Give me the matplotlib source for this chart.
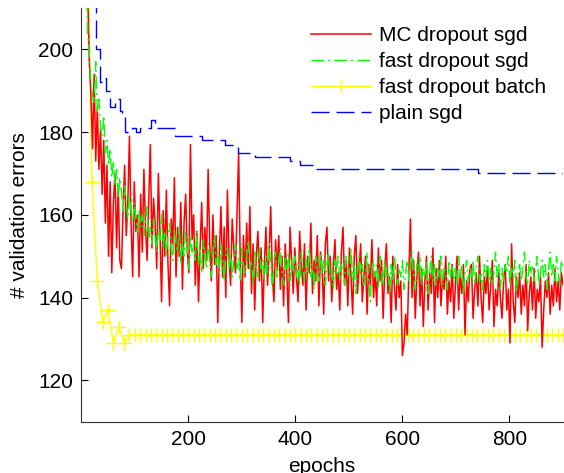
"""Validation errors per epoch for dropout variants (MATLAB-style figure)."""

import matplotlib
matplotlib.use("Agg")
import matplotlib.pyplot as plt

plt.rcParams["font.family"] = ["Liberation Sans", "DejaVu Sans"]
plt.rcParams["font.size"] = 15

# sgd curves read every 3 epochs
sgd_epochs = list(range(9, 901, 3))

mc_dropout_sgd = [
    240, 214, 197, 189, 176, 194, 173, 186, 171, 181,
    165, 178, 158, 172, 150, 168, 146, 163, 170, 152,
    167, 149, 147, 161, 172, 155, 163, 179, 158, 145,
    168, 156, 160, 145, 165, 151, 171, 157, 149, 163,
    177, 152, 164, 158, 147, 170, 156, 139, 161, 150,
    166, 148, 138, 159, 153, 169, 145, 157, 150, 163,
    142, 158, 165, 151, 146, 177, 154, 160, 143, 156,
    139, 152, 163, 147, 157, 149, 171, 153, 144, 160,
    148, 155, 134, 151, 162, 145, 157, 140, 166, 150,
    143, 159, 152, 146, 161, 175, 149, 134, 155, 145,
    158, 147, 162, 141, 153, 137, 150, 156, 144, 152,
    134, 148, 157, 143, 151, 162, 145, 139, 154, 147,
    155, 142, 150, 138, 153, 146, 134, 157, 149, 141,
    152, 145, 139, 156, 148, 143, 153, 137, 150, 146,
    158, 141, 149, 144, 155, 138, 151, 147, 136, 153,
    157, 144, 150, 139, 148, 154, 142, 146, 137, 151,
    157, 143, 149, 138, 152, 145, 136, 150, 155, 141,
    147, 153, 139, 145, 150, 136, 148, 143, 154, 140,
    146, 138, 152, 144, 149, 135, 147, 153, 141, 145,
    134, 150, 143, 137, 148, 140, 144, 126, 129, 136,
    131, 146, 159, 140, 149, 135, 145, 151, 138, 147,
    133, 144, 150, 137, 146, 141, 152, 134, 147, 140,
    149, 138, 145, 142, 150, 136, 144, 139, 148, 135,
    143, 150, 137, 146, 141, 148, 131, 144, 139, 147,
    148, 135, 142, 146, 138, 150, 140, 134, 145, 141,
    147, 137, 143, 149, 133, 142, 138, 146, 140, 135,
    144, 148, 137, 142, 129, 153, 139, 134, 145, 140,
    146, 136, 143, 138, 148, 132, 141, 145, 137, 147,
    135, 142, 139, 145, 128, 137, 144, 140, 146, 136,
    143, 138, 147, 139, 144, 137, 146, 143,
]

fast_dropout_sgd = [
    218, 204, 199, 192, 189, 187, 197, 185, 188, 181,
    179, 184, 175, 178, 172, 176, 169, 173, 167, 171,
    164, 169, 166, 161, 167, 163, 159, 165, 161, 158,
    163, 159, 156, 161, 157, 160, 155, 158, 162, 154,
    157, 153, 159, 155, 151, 157, 154, 160, 152, 156,
    150, 155, 158, 152, 149, 156, 153, 151, 157, 148,
    154, 150, 156, 152, 147, 155, 151, 153, 149, 156,
    148, 152, 146, 154, 150, 147, 153, 149, 145, 151,
    155, 148, 151, 146, 153, 149, 144, 150, 152, 147,
    151, 145, 149, 153, 147, 150, 144, 152, 148, 146,
    150, 154, 147, 149, 143, 151, 148, 145, 152, 147,
    149, 144, 150, 146, 153, 148, 142, 149, 151, 145,
    148, 152, 146, 143, 150, 147, 151, 144, 149, 146,
    150, 145, 148, 143, 151, 147, 144, 149, 146, 152,
    145, 148, 142, 150, 147, 144, 151, 146, 149, 143,
    148, 151, 145, 147, 142, 149, 146, 150, 144, 148,
    146, 143, 150, 147, 145, 152, 144, 148, 141, 147,
    150, 145, 148, 143, 146, 151, 144, 139, 147, 149,
    145, 148, 142, 150, 146, 143, 149, 145, 147, 141,
    148, 144, 150, 146, 143, 147, 145, 149, 142, 146,
    149, 144, 147, 151, 145, 142, 148, 146, 150, 143,
    147, 145, 149, 141, 146, 150, 144, 148, 143, 147,
    145, 150, 143, 147, 146, 142, 149, 145, 148, 144,
    147, 143, 150, 145, 148, 141, 146, 149, 144, 147,
    145, 149, 143, 147, 150, 144, 146, 142, 148, 145,
    149, 144, 147, 143, 146, 151, 145, 148, 142, 147,
    144, 148, 146, 150, 143, 147, 145, 149, 141, 146,
    148, 144, 147, 151, 145, 143, 149, 146, 148, 144,
    147, 150, 143, 146, 149, 145, 148, 142, 147, 151,
    145, 148, 144, 150, 146, 143, 149, 147,
]

# batch run evaluated every 10 epochs
batch_epochs = list(range(10, 901, 10))
fast_dropout_batch = [
    240, 168, 144, 134, 137, 129, 133, 129, 131, 131,
    131, 131, 131, 131, 131, 131, 131, 131, 131, 131,
    131, 131, 131, 131, 131, 131, 131, 131, 131, 131,
    131, 131, 131, 131, 131, 131, 131, 131, 131, 131,
    131, 131, 131, 131, 131, 131, 131, 131, 131, 131,
    131, 131, 131, 131, 131, 131, 131, 131, 131, 131,
    131, 131, 131, 131, 131, 131, 131, 131, 131, 131,
    131, 131, 131, 131, 131, 131, 131, 131, 131, 131,
    131, 131, 131, 131, 131, 131, 131, 131, 131, 131,
]

# plain sgd: epochs where the error count changes (step curve)
plain_epochs = [10, 20, 27, 35, 41, 47, 53, 63, 72, 76, 82, 94, 102, 110,
                122, 130, 138, 175, 225, 268, 293, 325, 390, 409, 437, 742, 900]
plain_sgd = [232, 212, 200, 192, 193, 190, 186, 188, 185, 184, 180, 181, 180, 181,
             181, 183, 181, 179, 178, 177, 175, 174, 173, 172, 171, 170, 170]

fig = plt.figure(figsize=(5.64, 4.73), dpi=100)
ax = fig.add_axes([0.1441, 0.1085, 0.8541, 0.8745])

ax.plot(batch_epochs, fast_dropout_batch, color="#ffff00", lw=1.0, marker="+",
        ms=10, mew=1.0, label="fast dropout batch", zorder=2)
ax.plot(sgd_epochs, mc_dropout_sgd, color="#ff0000", lw=1.1,
        label="MC dropout sgd", zorder=3)
ax.plot(sgd_epochs, fast_dropout_sgd, color="#00ff00", lw=1.0, dashes=(9, 3, 1.5, 3),
        label="fast dropout sgd", zorder=4)
ax.plot(plain_epochs, plain_sgd, color="#0000ff", lw=1.0, dashes=(13, 5),
        drawstyle="steps-post", label="plain sgd", zorder=5)

ax.set_xlim(0, 900)
ax.set_ylim(110, 210)
ax.set_xticks([200, 400, 600, 800])
ax.set_yticks([120, 140, 160, 180, 200])
ax.tick_params(direction="in", length=5, width=0.8, pad=6, labelsize=15)
for side in ("top", "right"):
    ax.spines[side].set_visible(False)
for side in ("left", "bottom"):
    ax.spines[side].set_linewidth(0.8)
    ax.spines[side].set_color("#333333")

ax.set_xlabel("epochs", fontsize=15)
ax.set_ylabel("# validation errors", fontsize=15)
ax.xaxis.set_label_coords(0.5, -0.085)
ax.yaxis.set_label_coords(-0.108, 0.5)

handles, labels = ax.get_legend_handles_labels()
order = [1, 2, 0, 3]
ax.legend([handles[i] for i in order], [labels[i] for i in order],
          loc="upper left", bbox_to_anchor=(311 / 564, 1 - 26 / 473),
          bbox_transform=fig.transFigure, frameon=False, borderpad=0,
          borderaxespad=0, handlelength=2.9, handletextpad=0.35,
          labelspacing=0.34, numpoints=1, fontsize=15)

fig.savefig("out.png", dpi=100)
